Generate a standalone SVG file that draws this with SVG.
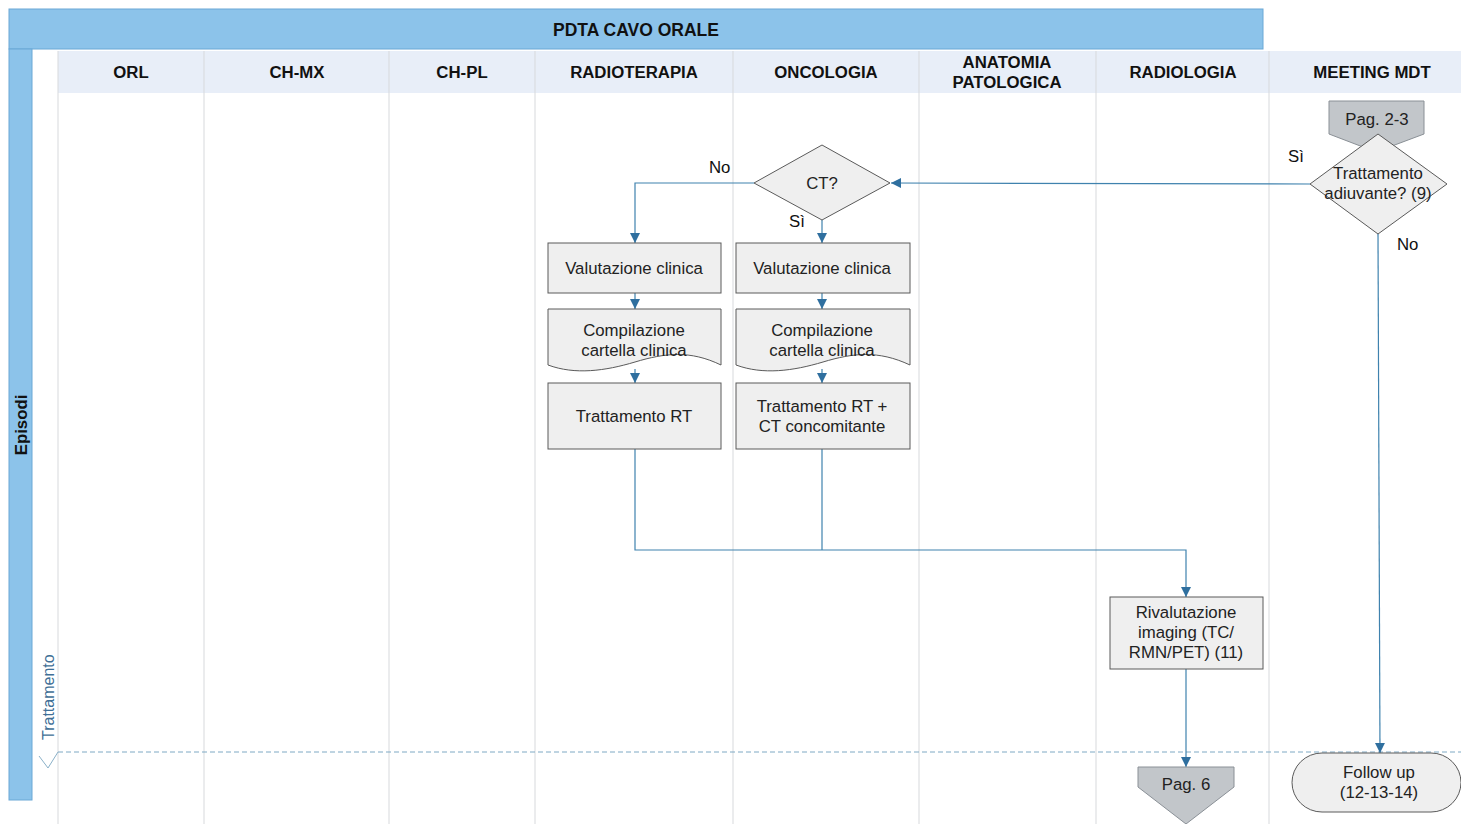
<svg xmlns="http://www.w3.org/2000/svg" width="1461" height="824" viewBox="0 0 1461 824">
  <defs>
    <marker id="arr" viewBox="0 0 10 10" refX="10" refY="5" markerWidth="10" markerHeight="10" markerUnits="userSpaceOnUse" orient="auto">
      <path d="M0,0 L10,5 L0,10 z" fill="#2f6f9f"/>
    </marker>
    <style>
      .bar { fill: #8cc3ea; stroke: #6aa8d6; stroke-width: 1; }
      .hdr { fill: #e8eef8; }
      .div { stroke: #d7d9dc; stroke-width: 1; }
      .hdrtxt { font-family: "Liberation Sans", Arial, sans-serif; font-weight: bold; font-size: 16.8px; fill: #111; text-anchor: middle; }
      .box { fill: #efefef; stroke: #5a5a5a; stroke-width: 1; }
      .off { fill: #c2c6ca; stroke: #8a9096; stroke-width: 1; }
      .txt { font-family: "Liberation Sans", Arial, sans-serif; font-size: 16.8px; fill: #222; text-anchor: middle; }
      .lbl { font-family: "Liberation Sans", Arial, sans-serif; font-size: 16.8px; fill: #111; }
      .con { fill: none; stroke: #3f82ae; stroke-width: 1.2; marker-end: url(#arr); }
      .conl { fill: none; stroke: #3f82ae; stroke-width: 1.2; }
    </style>
  </defs>

  <rect width="1461" height="824" fill="#ffffff"/>

  <!-- pool frame -->
  <g id="pool">
    <rect class="bar" x="9" y="9" width="1254" height="40"/>
    <text x="636" y="36" class="hdrtxt" font-size="17.5" style="font-size:17.5px">PDTA CAVO ORALE</text>
    <rect class="bar" x="9" y="49" width="23" height="751"/>
    <text transform="translate(27,425) rotate(-90)" class="hdrtxt">Episodi</text>
  </g>

  <!-- column headers and lane dividers -->
  <g id="lanes">
    <rect class="hdr" x="58" y="51" width="1403" height="42"/>
    <line class="div" x1="58" y1="51" x2="58" y2="824"/>
    <line class="div" x1="204" y1="51" x2="204" y2="824"/>
    <line class="div" x1="389" y1="51" x2="389" y2="824"/>
    <line class="div" x1="535" y1="51" x2="535" y2="824"/>
    <line class="div" x1="733" y1="51" x2="733" y2="824"/>
    <line class="div" x1="919" y1="51" x2="919" y2="824"/>
    <line class="div" x1="1096" y1="51" x2="1096" y2="824"/>
    <line class="div" x1="1269" y1="51" x2="1269" y2="824"/>
    <text x="131" y="78" class="hdrtxt">ORL</text>
    <text x="297" y="78" class="hdrtxt">CH-MX</text>
    <text x="462" y="78" class="hdrtxt">CH-PL</text>
    <text x="634" y="78" class="hdrtxt">RADIOTERAPIA</text>
    <text x="826" y="78" class="hdrtxt">ONCOLOGIA</text>
    <text x="1007" y="68" class="hdrtxt">ANATOMIA</text>
    <text x="1007" y="88" class="hdrtxt">PATOLOGICA</text>
    <text x="1183" y="78" class="hdrtxt">RADIOLOGIA</text>
    <text x="1372" y="78" class="hdrtxt">MEETING MDT</text>
  </g>

  <!-- phase separator -->
  <g id="phase">
    <line x1="58" y1="752" x2="1461" y2="752" stroke="#7fa9c4" stroke-width="1" stroke-dasharray="5,3"/>
    <polyline points="39,756 48,768 58,752" fill="none" stroke="#8ab0c8" stroke-width="1"/>
    <text transform="translate(54,740) rotate(-90)" class="lbl" style="fill:#3f6f96;font-size:16px">Trattamento</text>
  </g>

  <!-- connectors -->
  <g id="connectors">
    <path class="con" d="M1310,184 L891,183"/>
    <path class="con" d="M754,183 L635,183 L635,243"/>
    <path class="con" d="M822,220 L822,243"/>
    <path class="con" d="M635,293 L635,309"/>
    <path class="con" d="M822,293 L822,309"/>
    <path class="con" d="M635,369 L635,383"/>
    <path class="con" d="M822,369 L822,383"/>
    <path class="con" d="M635,449 L635,550 L1186,550 L1186,597"/>
    <path class="conl" d="M822,449 L822,550"/>
    <path class="con" d="M1186,669 L1186,767"/>
    <path class="con" d="M1378,234 L1380,753"/>
    <text x="709" y="173" class="lbl">No</text>
    <text x="789" y="227" class="lbl">Sì</text>
    <text x="1288" y="162" class="lbl">Sì</text>
    <text x="1397" y="250" class="lbl">No</text>
  </g>

  <g id="pag23">
    <path class="off" d="M1329,101 L1424,101 L1424,134 L1376,152 L1329,134 Z"/>
    <text x="1377" y="125" class="txt">Pag. 2-3</text>
  </g>

  <g id="adiuvante">
    <path class="box" d="M1378,134 L1447,184 L1378,234 L1310,184 Z"/>
    <text x="1378" y="179" class="txt">Trattamento</text>
    <text x="1378" y="199" class="txt">adiuvante? (9)</text>
  </g>

  <g id="ct">
    <path class="box" d="M822,145 L890,183 L822,220 L754,183 Z"/>
    <text x="822" y="189" class="txt">CT?</text>
  </g>

  <g id="val-rt">
    <rect class="box" x="548" y="243" width="173" height="50"/>
    <text x="634" y="274" class="txt">Valutazione clinica</text>
  </g>
  <g id="val-onc">
    <rect class="box" x="736" y="243" width="174" height="50"/>
    <text x="822" y="274" class="txt">Valutazione clinica</text>
  </g>

  <g id="doc-rt">
    <path class="box" d="M548,309 L721,309 L721,365 C690,350 665,353 635,362 C605,371 575,375 548,365 Z"/>
    <text x="634" y="336" class="txt">Compilazione</text>
    <text x="634" y="356" class="txt">cartella clinica</text>
  </g>
  <g id="doc-onc">
    <path class="box" d="M736,309 L910,309 L910,365 C878,350 853,353 823,362 C793,371 763,375 736,365 Z"/>
    <text x="822" y="336" class="txt">Compilazione</text>
    <text x="822" y="356" class="txt">cartella clinica</text>
  </g>

  <g id="rt">
    <rect class="box" x="548" y="383" width="173" height="66"/>
    <text x="634" y="422" class="txt">Trattamento RT</text>
  </g>
  <g id="rtct">
    <rect class="box" x="736" y="383" width="174" height="66"/>
    <text x="822" y="412" class="txt">Trattamento RT +</text>
    <text x="822" y="432" class="txt">CT concomitante</text>
  </g>

  <g id="rivalutazione">
    <rect class="box" x="1110" y="597" width="153" height="72"/>
    <text x="1186" y="618" class="txt">Rivalutazione</text>
    <text x="1186" y="638" class="txt">imaging (TC/</text>
    <text x="1186" y="658" class="txt">RMN/PET) (11)</text>
  </g>

  <g id="pag6">
    <path class="off" d="M1138,767 L1234,767 L1234,787 L1186,824 L1138,787 Z"/>
    <text x="1186" y="790" class="txt">Pag. 6</text>
  </g>

  <g id="followup">
    <path class="box" d="M1322,753 L1431,753 A30,29.5 0 0 1 1431,812 L1322,812 A30,29.5 0 0 1 1322,753 Z"/>
    <text x="1379" y="778" class="txt">Follow up</text>
    <text x="1379" y="798" class="txt">(12-13-14)</text>
  </g>
</svg>
